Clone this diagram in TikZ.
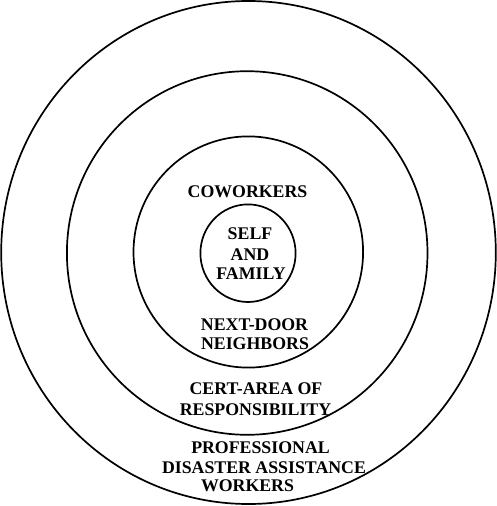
\documentclass[tikz,border=0pt]{standalone}
\usepackage{fontspec}
\setmainfont{Liberation Serif}
\begin{document}
\begin{tikzpicture}[x=1pt,y=-1pt,
  ring/.style={draw=black,line width=1.7pt},
  lbl/.style={font=\fontsize{17.8}{20}\selectfont\bfseries,anchor=base,inner sep=0pt}]
\useasboundingbox (0,0) rectangle (497,506);
\draw[ring] (248.5,252.5) ellipse [x radius=247.3,y radius=251.5];
\draw[ring] (247.2,253) ellipse [x radius=180.3,y radius=181.8];
\draw[ring] (248.3,252) ellipse [x radius=114.8,y radius=115.6];
\draw[ring] (248,253.2) ellipse [x radius=47.6,y radius=48.8];
\node[lbl] (cw) at (247.5,197) {COWORKERS};
\node[lbl] (s1) at (250,239) {SELF};
\node[lbl] (s2) at (250,260) {AND};
\node[lbl] (s3) at (251,279) {FAMILY};
\node[lbl] (n1) at (254.5,330) {NEXT-DOOR};
\node[lbl] (n2) at (255,349) {NEIGHBORS};
\node[lbl] (c1) at (256,394) {CERT-AREA OF};
\node[lbl] (c2) at (255.5,415) {RESPONSIBILITY};
\node[lbl] (p1) at (260.5,453) {PROFESSIONAL};
\node[lbl] (p2) at (264,473) {DISASTER ASSISTANCE};
\node[lbl] (p3) at (247.5,491) {WORKERS};
\end{tikzpicture}
\end{document}
